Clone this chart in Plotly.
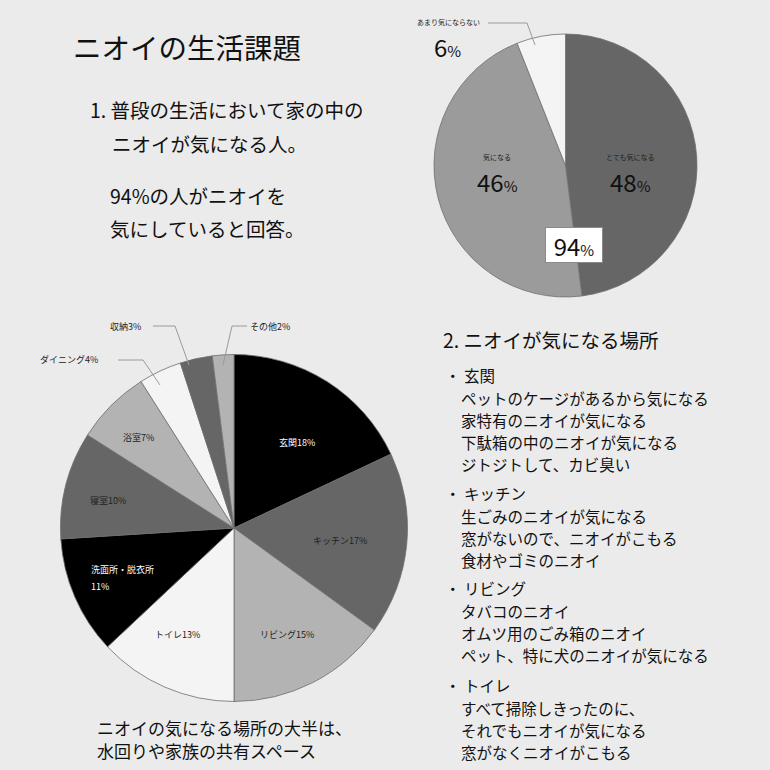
import plotly.graph_objects as go

# --- data ---
q1_labels = ["とても気になる", "気になる", "あまり気にならない"]
q1_values = [48, 46, 6]
q1_colors = ["#666666", "#9b9b9b", "#f4f4f4"]

q2_labels = ["玄関", "キッチン", "リビング", "トイレ", "洗面所・脱衣所",
             "寝室", "浴室", "ダイニング", "収納", "その他"]
q2_values = [18, 17, 15, 13, 11, 10, 7, 4, 3, 2]
q2_colors = ["#000000", "#666666", "#b3b3b3", "#f4f4f4", "#000000",
             "#666666", "#b3b3b3", "#f4f4f4", "#666666", "#b3b3b3"]

title_text = "ニオイの生活課題"
intro_lines = ["1. 普段の生活において家の中の", "ニオイが気になる人。",
               "94%の人がニオイを", "気にしていると回答。"]
section2_title = "2. ニオイが気になる場所"
places = ["玄関", "キッチン", "リビング", "トイレ"]
comments = [
    ["ペットのケージがあるから気になる", "家特有のニオイが気になる",
     "下駄箱の中のニオイが気になる", "ジトジトして、カビ臭い"],
    ["生ごみのニオイが気になる", "窓がないので、ニオイがこもる", "食材やゴミのニオイ"],
    ["タバコのニオイ", "オムツ用のごみ箱のニオイ", "ペット、特に犬のニオイが気になる"],
    ["すべて掃除しきったのに、", "それでもニオイが気になる", "窓がなくニオイがこもる"],
]
caption_lines = ["ニオイの気になる場所の大半は、", "水回りや家族の共有スペース"]

W = 770
FONT = "Noto Sans CJK JP"
BG = "#ebebeb"


def px(x):
    return x / W


def py(y):
    return 1 - y / W


def dom(cx, cy, r):
    return dict(x=[px(cx - r), px(cx + r)], y=[py(cy + r), py(cy - r)])


fig = go.Figure()

fig.add_trace(go.Pie(
    labels=q1_labels, values=q1_values, sort=False, direction="clockwise",
    rotation=0, textinfo="none", hoverinfo="label+percent",
    marker=dict(colors=q1_colors, line=dict(color="#6e6e6e", width=0.8)),
    domain=dom(565.5, 165.5, 131.5), showlegend=False,
))

fig.add_trace(go.Pie(
    labels=q2_labels, values=q2_values, sort=False, direction="clockwise",
    rotation=0, textinfo="none", hoverinfo="label+percent",
    marker=dict(colors=q2_colors, line=dict(color="#6e6e6e", width=0.8)),
    domain=dom(234, 528, 173.5), showlegend=False,
))

ann = []


def txt(x, y, s, size, color="#111111", xanchor="left", **kw):
    ann.append(dict(x=px(x), y=py(y), xref="paper", yref="paper", text=s,
                    showarrow=False, xanchor=xanchor, yanchor="middle",
                    font=dict(family=FONT, size=size, color=color), **kw))


# left text block
txt(71, 47, title_text, 28.5)
txt(88, 110, intro_lines[0], 19.5)
txt(110, 143, intro_lines[1], 19.5)
txt(108, 195, intro_lines[2], 19.5)
txt(108, 228, intro_lines[3], 19.5)

# right text block
txt(441, 340, section2_title, 19.5)
block_y = [375, 493, 588, 685]
for place, lines, y0 in zip(places, comments, block_y):
    txt(443, y0, "・ " + place, 15.5)
    for i, line in enumerate(lines):
        txt(459, y0 + 23 + i * 22, line, 15.5)

txt(95, 727, caption_lines[0], 17)
txt(95, 750, caption_lines[1], 17)


def pct(v, small):
    return f"{v}<span style='font-size:{small}px'>%</span>"


# top pie labels
txt(630, 157, q1_labels[0], 7, "#222222", "center")
txt(630, 181, pct(q1_values[0], 15), 24, "#111111", "center")
txt(497, 157, q1_labels[1], 7, "#222222", "center")
txt(497, 181, pct(q1_values[1], 15), 24, "#111111", "center")
txt(448, 22, q1_labels[2], 7, "#222222", "center")
txt(447, 46, pct(q1_values[2], 15), 24, "#111111", "center")
ann.append(dict(x=px(574), y=py(245), xref="paper", yref="paper",
                text=pct(q1_values[0] + q1_values[1], 15), showarrow=False,
                xanchor="center", yanchor="middle", bgcolor="#ffffff",
                bordercolor="#8a8a8a", borderwidth=1, borderpad=4,
                width=48, height=26,
                font=dict(family=FONT, size=24, color="#111111")))

# bottom pie labels
inside_pos = {
    0: (297, 442), 1: (340, 540), 2: (287, 634), 3: (177, 634),
    5: (108, 500), 6: (138, 437),
}
for i, (x, y) in inside_pos.items():
    col = "#ffffff" if q2_colors[i] == "#000000" else "#222222"
    txt(x, y, f"{q2_labels[i]}{q2_values[i]}%", 9, col, "center")
txt(89, 569, q2_labels[4], 9, "#ffffff")
txt(89, 586, f"{q2_values[4]}%", 9, "#ffffff")

txt(69, 360, f"{q2_labels[7]}{q2_values[7]}%", 9, "#222222", "center")
txt(125, 326, f"{q2_labels[8]}{q2_values[8]}%", 9, "#222222", "center")
txt(270, 326, f"{q2_labels[9]}{q2_values[9]}%", 9, "#222222", "center")

# leader lines
leaders = [
    [(488, 23), (527, 23), (535, 45)],
    [(118, 360), (143, 360), (160, 385)],
    [(153, 326), (175, 326), (189, 365)],
    [(247, 326), (232, 326), (223, 365)],
]
shapes = []
for pts in leaders:
    path = "M " + " L ".join(f"{px(x)},{py(y)}" for x, y in pts)
    shapes.append(dict(type="path", xref="paper", yref="paper", path=path,
                       line=dict(color="#9a9a9a", width=1)))

fig.update_layout(
    width=W, height=W,
    margin=dict(l=0, r=0, t=0, b=0),
    paper_bgcolor=BG, plot_bgcolor=BG,
    annotations=ann, shapes=shapes,
    font=dict(family=FONT),
)

fig.write_html(
    "out.html",
    config={"displayModeBar": False},
    post_script="document.body.style.margin='0';document.body.style.overflow='hidden';",
)
